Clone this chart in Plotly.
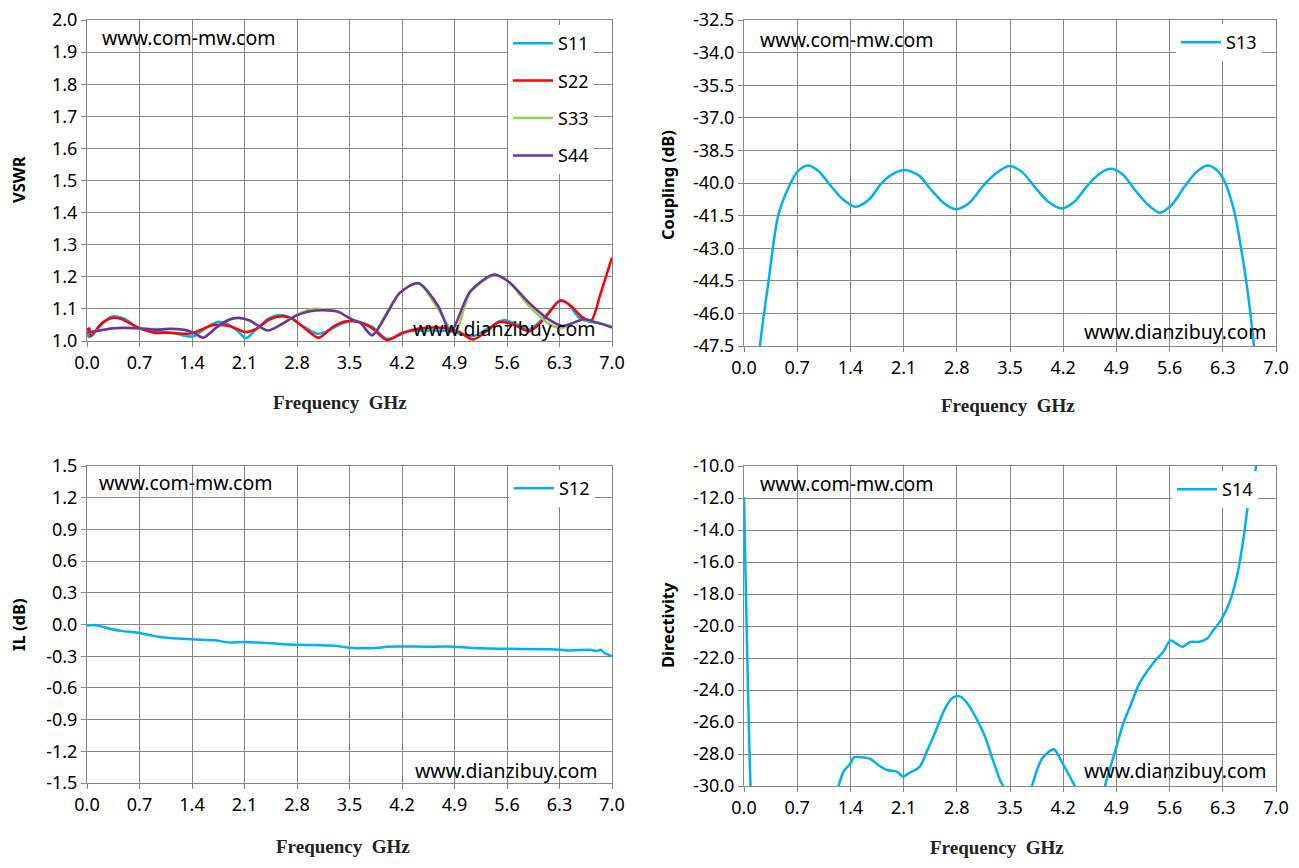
import plotly.graph_objects as go

# ---- VSWR (top left) ----
s11_f = [0.0, 0.03, 0.32, 0.49, 0.71, 0.93, 1.19, 1.32, 1.42, 1.6, 1.75, 1.86, 2.0, 2.12, 2.26, 2.43, 2.56,
         2.7, 2.87, 3.07, 3.18, 3.36, 3.53, 3.64, 3.8, 4.0, 4.3, 4.6, 4.85, 5.15, 5.35, 5.55, 5.75, 5.9,
         6.1, 6.3, 6.4, 6.55, 6.7, 6.85, 7.0]
s11_v = [1.025, 1.012, 1.076, 1.07, 1.038, 1.03, 1.023, 1.015, 1.015, 1.043, 1.06, 1.054, 1.033, 1.009, 1.038,
         1.071, 1.081, 1.074, 1.048, 1.023, 1.028, 1.05, 1.062, 1.058, 1.045, 1.007, 1.03, 1.033, 1.03, 1.015,
         1.04, 1.065, 1.05, 1.037, 1.075, 1.125, 1.12, 1.075, 1.06, 1.055, 1.045]

s22_f = [0.0, 0.03, 0.05, 0.19, 0.32, 0.45, 0.67, 0.89, 1.11, 1.37, 1.55, 1.68, 1.86, 2.0, 2.1, 2.26, 2.43,
         2.61, 2.74, 2.91, 3.09, 3.27, 3.44, 3.62, 3.8, 4.0, 4.2, 4.45, 4.8, 4.95, 5.15, 5.35, 5.5, 5.7,
         5.9, 6.1, 6.31, 6.45, 6.6, 6.72, 6.85, 7.0]
s22_v = [1.033, 1.04, 1.015, 1.054, 1.071, 1.069, 1.043, 1.026, 1.026, 1.023, 1.038, 1.05, 1.048, 1.038, 1.028,
         1.038, 1.067, 1.077, 1.069, 1.038, 1.01, 1.043, 1.061, 1.059, 1.04, 1.003, 1.025, 1.04, 1.04, 1.03,
         1.005, 1.035, 1.06, 1.05, 1.03, 1.07, 1.126, 1.11, 1.075, 1.063, 1.15, 1.26]

s33_f = [0.0, 0.36, 0.67, 0.93, 1.11, 1.29, 1.42, 1.55, 1.73, 1.9, 2.06, 2.17, 2.41, 2.61, 2.79, 3.0, 3.22,
         3.36, 3.53, 3.64, 3.8, 4.0, 4.17, 4.42, 4.68, 4.9, 5.11, 5.43, 5.62, 5.89, 6.15, 6.32, 6.6, 6.79, 7.0]
s33_v = [1.026, 1.04, 1.04, 1.037, 1.037, 1.035, 1.026, 1.012, 1.043, 1.067, 1.07, 1.062, 1.033, 1.056, 1.081,
         1.1, 1.097, 1.09, 1.067, 1.058, 1.018, 1.09, 1.15, 1.18, 1.1, 1.025, 1.15, 1.205, 1.185, 1.11, 1.055,
         1.04, 1.066, 1.058, 1.045]

s44_f = [0.0, 0.36, 0.67, 0.93, 1.11, 1.29, 1.42, 1.55, 1.73, 1.9, 2.04, 2.17, 2.41, 2.61, 2.79, 2.96, 3.22,
         3.36, 3.53, 3.64, 3.8, 4.0, 4.17, 4.42, 4.68, 4.85, 5.11, 5.43, 5.62, 5.89, 6.15, 6.34, 6.63, 6.79, 7.0]
s44_v = [1.026, 1.04, 1.04, 1.035, 1.038, 1.035, 1.026, 1.01, 1.043, 1.067, 1.072, 1.064, 1.033, 1.054, 1.079,
         1.092, 1.095, 1.09, 1.067, 1.058, 1.018, 1.085, 1.15, 1.18, 1.11, 1.03, 1.155, 1.207, 1.185, 1.12,
         1.068, 1.047, 1.068, 1.058, 1.042]

# ---- Coupling (top right) ----
s13_f = [0.15, 0.21, 0.32, 0.45, 0.6, 0.71, 0.84, 0.98, 1.13, 1.3, 1.47, 1.65, 1.8, 1.95, 2.12, 2.3, 2.46,
         2.62, 2.79, 2.97, 3.13, 3.3, 3.49, 3.66, 3.83, 4.0, 4.18, 4.35, 4.5, 4.65, 4.82, 4.98, 5.14, 5.3,
         5.47, 5.63, 5.79, 5.95, 6.1, 6.22, 6.32, 6.45, 6.55, 6.63, 6.71, 6.76]
s13_v = [-50.5, -47.5, -44.6, -41.5, -40.1, -39.45, -39.19, -39.45, -40.08, -40.75, -41.09, -40.75, -40.05,
         -39.6, -39.4, -39.65, -40.3, -40.9, -41.21, -40.9, -40.2, -39.6, -39.22, -39.5, -40.2, -40.85, -41.17,
         -40.85, -40.2, -39.65, -39.35, -39.6, -40.3, -40.95, -41.37, -41.0, -40.2, -39.5, -39.19, -39.4,
         -39.9, -41.3, -43.2, -45.06, -47.5, -49.5]

# ---- Insertion loss (bottom left) ----
s12_f = [0.0, 0.1, 0.2, 0.3, 0.5, 0.7, 0.9, 1.0, 1.4, 1.7, 1.9, 2.1, 2.5, 2.7, 3.0, 3.3, 3.5, 3.9, 4.0,
         4.5, 4.9, 5.1, 5.6, 6.2, 6.4, 6.7, 6.8, 6.85, 6.9, 7.0]
s12_v = [-0.01, -0.005, -0.02, -0.04, -0.065, -0.08, -0.11, -0.12, -0.14, -0.15, -0.17, -0.165, -0.18, -0.19,
         -0.195, -0.2, -0.22, -0.22, -0.21, -0.21, -0.21, -0.22, -0.23, -0.235, -0.245, -0.24, -0.25, -0.24,
         -0.27, -0.3]

# ---- Directivity (bottom right) ----
s14_f = [0.0, 0.086, 0.12, None, 1.18, 1.245, 1.31, 1.4, 1.45, 1.53, 1.66, 1.77, 1.88, 2.01, 2.09, 2.17,
         2.31, 2.41, 2.52, 2.63, 2.74, 2.84, 2.95, 3.06, 3.17, 3.27, 3.38, 3.41, 3.46, None, 3.74, 3.79,
         3.92, 4.0, 4.08, 4.16, 4.24, 4.35, 4.4, None, 4.7, 4.75, 4.88, 4.99, 5.1, 5.2, 5.31, 5.42, 5.52,
         5.61, 5.69, 5.77, 5.87, 5.98, 6.09, 6.17, 6.28, 6.39, 6.49, 6.57, 6.63, 6.7, 6.74, 6.78]
s14_v = [-11.95, -30.0, -33.0, None, -31.5, -30.0, -29.1, -28.6, -28.2, -28.2, -28.3, -28.7, -29.0, -29.1,
         -29.4, -29.2, -28.8, -27.8, -26.6, -25.3, -24.5, -24.4, -24.9, -25.8, -26.9, -28.3, -29.75, -30.0,
         -31.0, None, -31.2, -30.0, -28.3, -27.9, -27.7, -28.3, -29.0, -30.0, -31.0, None, -31.5, -30.0,
         -27.9, -26.1, -24.8, -23.6, -22.8, -22.1, -21.6, -20.9, -21.1, -21.3, -21.0, -21.0, -20.8, -20.3,
         -19.6, -18.5, -16.8, -14.6, -12.5, -10.9, -10.0, -9.0]

x_ticks = [0.0, 0.7, 1.4, 2.1, 2.8, 3.5, 4.2, 4.9, 5.6, 6.3, 7.0]
vswr_ticks = [1.0, 1.1, 1.2, 1.3, 1.4, 1.5, 1.6, 1.7, 1.8, 1.9, 2.0]
coup_ticks = [-47.5, -46.0, -44.5, -43.0, -41.5, -40.0, -38.5, -37.0, -35.5, -34.0, -32.5]
il_ticks = [-1.5, -1.2, -0.9, -0.6, -0.3, 0.0, 0.3, 0.6, 0.9, 1.2, 1.5]
dir_ticks = [-30.0, -28.0, -26.0, -24.0, -22.0, -20.0, -18.0, -16.0, -14.0, -12.0, -10.0]

CYAN = "#00B0F0"
RED = "#FF0000"
GREEN = "#92D050"
PURPLE = "#7030A0"
GRID = "#878787"

# page body has an 8px margin, so the figure is 16px smaller and shifted
OFF = 8
W, H = 1299 - 2 * OFF, 868 - 2 * OFF


def px(x):
    return (x - OFF) / W


def py(y):
    return 1 - (y - OFF) / H


fig = go.Figure()


def add_line(x, y, name, color, xa, ya, legend):
    fig.add_trace(go.Scatter(x=x, y=y, name=name, mode="lines", xaxis=xa, yaxis=ya,
                             line=dict(color=color, width=2.5, shape="spline", smoothing=0.8),
                             legend=legend, legendgroup=name, connectgaps=False))


add_line(s11_f, s11_v, "S11", CYAN, "x", "y", "legend")
add_line(s22_f, s22_v, "S22", RED, "x", "y", "legend")
add_line(s33_f, s33_v, "S33", GREEN, "x", "y", "legend")
add_line(s44_f, s44_v, "S44", PURPLE, "x", "y", "legend")
add_line(s13_f, s13_v, "S13", CYAN, "x2", "y2", "legend2")
add_line(s12_f, s12_v, "S12", CYAN, "x3", "y3", "legend3")
add_line(s14_f, s14_v, "S14", CYAN, "x4", "y4", "legend4")

tick_font = dict(family="Noto Sans, Open Sans, sans-serif", size=18, color="#000000")


def fmt(v):
    return f"{v:.1f}"


def xaxis(domain, anchor):
    return dict(domain=domain, anchor=anchor, range=[0, 7.0], tickvals=x_ticks,
                ticktext=[fmt(v) for v in x_ticks], showgrid=True, gridcolor=GRID, gridwidth=1,
                showline=True, linecolor=GRID, linewidth=1, mirror=True, ticks="outside",
                ticklen=5, tickcolor=GRID, tickfont=tick_font, zeroline=False, automargin=False,
                ticklabeloverflow="allow")


def yaxis(domain, anchor, ticks):
    return dict(domain=domain, anchor=anchor, range=[ticks[0], ticks[-1]], tickvals=ticks,
                ticktext=[fmt(v) for v in ticks], showgrid=True, gridcolor=GRID, gridwidth=1,
                showline=True, linecolor=GRID, linewidth=1, mirror=True, ticks="outside",
                ticklen=5, tickcolor=GRID, tickfont=tick_font, zeroline=False, automargin=False,
                ticklabeloverflow="allow")


xl = [px(87), px(612)]
xr = [px(744), px(1276)]

fig.update_layout(
    width=W, height=H,
    margin=dict(l=0, r=0, t=0, b=0),
    paper_bgcolor="white", plot_bgcolor="white",
    xaxis=xaxis(xl, "y"),
    yaxis=yaxis([py(341), py(20)], "x", vswr_ticks),
    xaxis2=xaxis(xr, "y2"),
    yaxis2=yaxis([py(346), py(20)], "x2", coup_ticks),
    xaxis3=xaxis(xl, "y3"),
    yaxis3=yaxis([py(783), py(466)], "x3", il_ticks),
    xaxis4=xaxis(xr, "y4"),
    yaxis4=yaxis([py(786), py(466)], "x4", dir_ticks),
)

leg_common = dict(bgcolor="white", borderwidth=0, font=dict(family="Noto Sans, sans-serif", size=18, color="black"),
                  xanchor="right", yanchor="top", tracegroupgap=11, itemwidth=40)
fig.update_layout(
    legend=dict(x=px(594), y=py(25), **leg_common),
    legend2=dict(x=px(1262), y=py(24), **leg_common),
    legend3=dict(x=px(595), y=py(470), **leg_common),
    legend4=dict(x=px(1258), y=py(471), **leg_common),
)

ann_font = dict(family="Noto Sans, Open Sans, sans-serif", size=19.5, color="black")
marks = [
    ("www.com-mw.com", 189, 38), ("www.dianzibuy.com", 504, 328),
    ("www.com-mw.com", 847, 40), ("www.dianzibuy.com", 1175, 332),
    ("www.com-mw.com", 186, 482), ("www.dianzibuy.com", 506, 770),
    ("www.com-mw.com", 847, 483), ("www.dianzibuy.com", 1175, 770),
]
for txt, mx, my in marks:
    fig.add_annotation(text=txt, x=px(mx), y=py(my), xref="paper", yref="paper",
                       showarrow=False, font=ann_font, xanchor="center", yanchor="middle")

xt_font = dict(family="Liberation Serif, DejaVu Serif, serif", size=19, color="#222222")
for mx, my in [(340, 402), (1008, 405), (343, 846), (997, 847)]:
    fig.add_annotation(text="<b>Frequency  GHz</b>", x=px(mx), y=py(my), xref="paper", yref="paper",
                       showarrow=False, font=xt_font, xanchor="center", yanchor="middle", borderpad=0)

yt_font = dict(family="Noto Sans, Open Sans, sans-serif", size=16.5, color="black")
for txt, mx, my in [("VSWR", 18, 180), ("Coupling (dB)", 667, 185), ("IL (dB)", 18, 625),
                    ("Directivity", 667, 625)]:
    fig.add_annotation(text=f"<b>{txt}</b>", x=px(mx), y=py(my), xref="paper", yref="paper",
                       showarrow=False, font=yt_font, textangle=-90, xanchor="center", yanchor="middle",
                       borderpad=0)

fig.write_html("out.html")
